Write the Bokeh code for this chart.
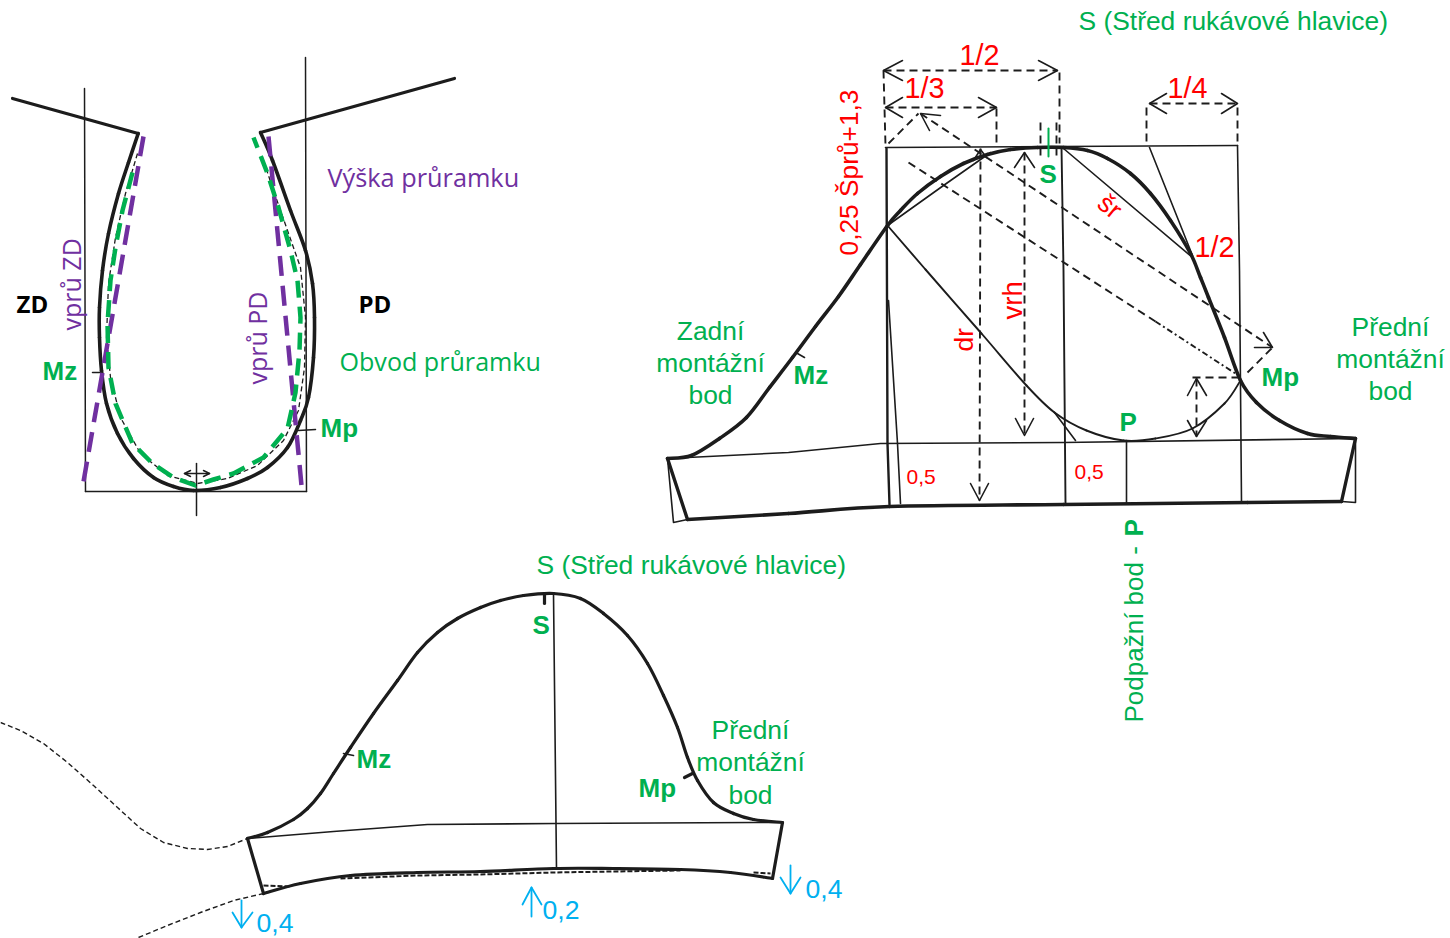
from math import pi, sin, cos
from bokeh.plotting import figure
from bokeh.models import Range1d
from bokeh.core.properties import value
from bokeh.embed import file_html
from bokeh.resources import INLINE

INK = "#1c1c1c"
GREEN = "#00B050"
PURPLE = "#7030A0"
RED = "#FF0000"
BLUE = "#00B0F0"
ARIAL = "Liberation Sans"
CALIBRI = "Open Sans"

# ---------- armhole drawing ----------
armhole = [(137.7,133),(128,162),(118,193),(108,233),(102,270),(99,307),(99,337),(101,370),(106,403),(117,433),
           (133,458),(153,477),(173,486),(193,490),(220,487),(247,478),(267,467),(287,447),(300,420),(308,397),
           (313,357),(314,317),(312,283),(305,250),(290,210),(272,160),(260,132)]
armhole_inner = [(137,153),(125,193),(115,237),(108,283),(106,337),(110,377),(120,417),(140,453),(167,475),(197,483),
                 (227,478),(257,465),(283,440),(298,410),(304,367),(305,317),(300,267),(287,230),(273,190),(262,157)]
armhole_green = [(132,172),(122,210),(115,247),(110,280),(107,323),(108,367),(115,403),(132,443),(152,463),(173,477),
                 (195,485),(213,479),(233,473),(263,457),(287,428),(295,392),(299,350),(300,317),(297,280),(290,250),
                 (278,207),(267,173),(253,137)]
dart_back = [(143,136),(82,487)]
dart_front = [(268,136),(301,485)]
shoulder_back = [(12,98),(137.7,133)]
shoulder_front = [(260,132),(454,78)]
guide_left = [(84,88),(85,491)]
guide_bottom = [(85,491),(306,491)]
guide_right = [(305,57),(306,491)]
guide_centre = [(196,463),(196,515)]
tick_mz_arm = [(92,372),(100,372)]
tick_mp_arm = [(298,430),(315,429)]
arrow_arm = [(184,473),(209,473)]
arrow_arm_heads = [[(190,470),(184,473),(190,476)],[(203,470),(209,473),(203,476)]]

# ---------- upper sleeve ----------
sleeve_head = [(667,458),(691,455),(719,438),(746,417),(769,387),(792,357),(815,326),(838,296),(860,264),(887,225),
               (900,210),(917,193),(940,176),(963,163),(987,154),(1010,149),(1037,147),(1063,147),(1087,150),(1107,158),
               (1130,173),(1150,193),(1170,220),(1190,253),(1200,277),(1208,297),(1224,337),(1240,380),(1256,402),
               (1279,420),(1307,433),(1330,436),(1355,438)]
sleeve_under = [(887,225),(925,269),(981,333),(1026,385),(1054,412),(1086,430),(1123,440),(1155,438),(1192,428),(1224,403),(1240,380)]
cuff_top = [(667,458),(788,452),(880,443),(1063,442),(1355,438)]
cuff_bottom = [(687,519),(788,513),(889,506),(1063,504),(1247,502),(1341,501)]
cuff_left = [(667,458),(687,519)]
cuff_right = [(1355,438),(1341,501)]
cuff_left_thin = [(667,458),(673,522),(687,519)]
cuff_right_thin = [(1355,438),(1355,502),(1341,501)]
box_top = [(885,147),(1237,145)]
box_left = [(886,148),(887,443),(889,504)]
box_left_slant = [(888,300),(897,443),(900,503)]
box_centre = [(1061,147),(1063,270),(1065,503)]
box_right = [(1237,145),(1239,270),(1241,502)]
line_p = [(1126,440),(1126,502)]
chord_back = [(887,225),(943,185),(990,152)]
chord_front = [(1063,148),(1192,257)]
tangent_front = [(1149,147),(1192,255)]
tangent_under = [(1054,412),(1075,440)]
tick_mz = [(797,353),(804,357)]
green_s_tick = [(1048,128),(1048,156)]

dash_half = [(883,70),(1057,70)]
dash_third = [(885,107),(996,107)]
dash_quarter = [(1149,103),(1237,103)]
drop_1 = [(883,70),(885,145)]
drop_2 = [(1059,72),(1059,143)]
drop_3 = [(996,108),(996,145)]
drop_4 = [(1146,107),(1146,143)]
drop_5 = [(1237,107),(1237,143)]
drop_6 = [(1040,122),(1040,155)]
drop_7 = [(1056,122),(1056,155)]
dash_sr = [(920,113),(1272,347)]
dash_sr_a = [(888,143),(918,113)]
dash_sr_b = [(1247,372),(1272,347)]
dash_mid_a = [(908,162),(1155,321)]
dash_mid_b = [(1155,321),(1238,375)]
dash_dr = [(980,148),(979,500)]
dash_vrh = [(1024,152),(1024,435)]
dash_small_v = [(1196,378),(1196,436)]
dash_small_h = [(1192,377),(1240,377)]
heads = [
    [(902,60),(883,70),(902,80)], [(1038,60),(1057,70),(1038,80)],
    [(902,97),(885,107),(902,117)], [(978,97),(996,107),(978,117)],
    [(1166,93),(1149,103),(1166,113)], [(1221,93),(1237,103),(1221,113)],
    [(940,115),(920,113),(929,130)], [(1254,347),(1272,347),(1263,332)],
    [(973,160),(980,149),(986,157)], [(970,483),(979,500),(988,483)],
    [(1014,167),(1024,152),(1034,167)], [(1015,418),(1024,435),(1033,418)],
    [(1187,395),(1196,378),(1206,395)], [(1187,420),(1196,436),(1206,420)],
]

# ---------- lower sleeve ----------
low_head = [(247,838),(267,832),(293,819),(307,808),(320,793),(333,773),(350,747),(373,713),(397,680),(417,652),
            (437,632),(457,618),(480,607),(500,600),(523,595),(553,593),(580,598),(603,613),(627,635),(647,663),
            (663,695),(677,727),(687,757),(697,780),(713,802),(733,813),(753,819),(782,822)]
low_cuff_top = [(247,838),(333,831),(427,824),(555,823),(753,822),(782,822)]
low_cuff_bottom = [(263,893),(300,883),(350,875),(417,872),(480,871),(553,868),(613,868),(680,869),(730,872),(772,878)]
low_dash_left = [(263,885),(290,886)]
low_dash_mid = [(340,878),(417,875),(480,874),(553,872),(613,871),(680,870)]
low_dash_right = [(753,872),(770,873)]
low_left = [(247,838),(263,893)]
low_right = [(782,822),(772,878)]
low_centre = [(553,593),(556,868)]
low_s_tick = [(544,595),(544,603)]
low_mz_tick = [(343,753),(353,755)]
low_mp_tick = [(684,777),(692,773)]
body_upper = [(0,722),(20,730),(43,743),(67,762),(93,785),(117,807),(140,828),(163,842),(187,848),(207,849),(227,846),(247,838)]
body_lower = [(138,937),(167,925),(200,912),(233,900),(263,893)]
blue_lines = [[(790,865),(790,893)],[(531,916),(531,887)],[(241,900),(241,927)]]
blue_heads = [[(780,877),(790,893),(800,877)],[(522,904),(531,887),(541,904)],[(232,912),(241,927),(252,912)]]

# ---------- labels: text, x, y, colour, font, size, bold, align, angle ----------
labels = [
    ("S (Střed rukávové hlavice)",1078,30,GREEN,ARIAL,26.4,False,"left",0),
    ("S (Střed rukávové hlavice)",536,574,GREEN,ARIAL,26.4,False,"left",0),
    ("Výška průramku",327,186,PURPLE,CALIBRI,25.3,False,"left",0),
    ("Obvod průramku",339,370,GREEN,CALIBRI,25.1,False,"left",0),
    ("ZD",16,312,"#000000",CALIBRI,24,True,"left",0),
    ("PD",358,312,"#000000",CALIBRI,24,True,"left",0),
    ("vprů ZD",79,330,PURPLE,CALIBRI,25,False,"left",pi/2),
    ("vprů PD",265,384,PURPLE,CALIBRI,25,False,"left",pi/2),
    ("Mz",42,380,GREEN,ARIAL,26,True,"left",0),
    ("Mp",320,437,GREEN,ARIAL,26,True,"left",0),
    ("Mz",793,384,GREEN,ARIAL,26,True,"left",0),
    ("Mp",1261,386,GREEN,ARIAL,26,True,"left",0),
    ("P",1119,431,GREEN,ARIAL,26,True,"left",0),
    ("S",1039,183,GREEN,ARIAL,26,True,"left",0),
    ("S",532,634,GREEN,ARIAL,26,True,"left",0),
    ("Mz",356,768,GREEN,ARIAL,26,True,"left",0),
    ("Mp",638,797,GREEN,ARIAL,26,True,"left",0),
    ("Zadní",710,340,GREEN,ARIAL,26.4,False,"center",0),
    ("montážní",710,372,GREEN,ARIAL,26.4,False,"center",0),
    ("bod",710,404,GREEN,ARIAL,26.4,False,"center",0),
    ("Přední",1390,336,GREEN,ARIAL,26.4,False,"center",0),
    ("montážní",1390,368,GREEN,ARIAL,26.4,False,"center",0),
    ("bod",1390,400,GREEN,ARIAL,26.4,False,"center",0),
    ("Přední",750,739,GREEN,ARIAL,26.4,False,"center",0),
    ("montážní",750,771,GREEN,ARIAL,26.4,False,"center",0),
    ("bod",750,804,GREEN,ARIAL,26.4,False,"center",0),
    ("Podpažní bod - ",1143,722,GREEN,ARIAL,26,False,"left",pi/2),
    ("P",1143,536,GREEN,ARIAL,26,True,"left",pi/2),
    ("1/2",959,65,RED,ARIAL,28.8,False,"left",0),
    ("1/3",904,98,RED,ARIAL,28.8,False,"left",0),
    ("1/4",1167,98,RED,ARIAL,28.8,False,"left",0),
    ("1/2",1194,257,RED,ARIAL,28.8,False,"left",0),
    ("0,25 Šprů+1,3",858,255,RED,ARIAL,26.3,False,"left",pi/2),
    ("dr",973,351,RED,ARIAL,26.4,False,"left",pi/2),
    ("vrh",1022,319,RED,ARIAL,27.5,False,"left",pi/2),
    ("šr",1095,206,RED,ARIAL,26.4,False,"left",-0.7),
    ("0,5",906,484,RED,ARIAL,21,False,"left",0),
    ("0,5",1074,479,RED,ARIAL,21,False,"left",0),
    ("0,4",805,898,BLUE,ARIAL,26.6,False,"left",0),
    ("0,2",542,919,BLUE,ARIAL,26.6,False,"left",0),
    ("0,4",256,932,BLUE,ARIAL,26.6,False,"left",0),
]

p = figure(width=1450, height=938, output_backend="svg", toolbar_location=None,
           x_range=Range1d(0, 1450), y_range=Range1d(938, 0),
           x_axis_location=None, y_axis_location=None, min_border=0,
           outline_line_color=None, background_fill_color="white", border_fill_color="white")
p.xgrid.visible = False
p.ygrid.visible = False


def draw(path, color=INK, width=1.3, dash="solid"):
    p.line([pt[0] for pt in path], [pt[1] for pt in path], line_color=color, line_width=width,
           line_dash=dash, line_join="round", line_cap="butt" if dash != "solid" else "round")


def curve(path, color=INK, width=3.2):
    """Solid smooth curve through the read points, using Bokeh's own bezier glyph."""
    n = len(path)
    x0, y0, x1, y1, cx0, cy0, cx1, cy1 = [], [], [], [], [], [], [], []
    for i in range(n - 1):
        a, b = path[max(i - 1, 0)], path[i]
        c, d = path[i + 1], path[min(i + 2, n - 1)]
        x0.append(b[0]); y0.append(b[1]); x1.append(c[0]); y1.append(c[1])
        cx0.append(b[0] + (c[0] - a[0]) / 6); cy0.append(b[1] + (c[1] - a[1]) / 6)
        cx1.append(c[0] - (d[0] - b[0]) / 6); cy1.append(c[1] - (d[1] - b[1]) / 6)
    p.bezier(x0=x0, y0=y0, x1=x1, y1=y1, cx0=cx0, cy0=cy0, cx1=cx1, cy1=cy1,
             line_color=color, line_width=width, line_cap="round")


for path in (guide_left, guide_bottom, guide_right, guide_centre, tick_mz_arm, tick_mp_arm, arrow_arm):
    draw(path, width=1.5)
for path in arrow_arm_heads:
    draw(path, width=1.5)
draw(armhole_inner, width=1.3, dash="5 3")
curve(armhole, width=3.6)
draw(shoulder_back, width=3.2)
draw(shoulder_front, width=3.2)
draw(dart_back, PURPLE, 4.5, "20 10")
draw(dart_front, PURPLE, 4.5, "20 10")
draw(armhole_green, GREEN, 4.5, "17 9")

for path in (cuff_top, box_top, box_right, line_p, chord_back, chord_front, tangent_front,
             tangent_under, cuff_left_thin, cuff_right_thin, box_left_slant, tick_mz):
    draw(path, width=1.6)
draw(box_centre, width=1.9)
curve(sleeve_under, width=1.9)
draw(box_left, width=2.4)
curve(sleeve_head, width=3.6)
curve(cuff_bottom, width=3.6)
draw(cuff_left, width=3.4)
draw(cuff_right, width=3.4)
for path in (dash_half, dash_third, dash_quarter, drop_1, drop_2, drop_3, drop_4, drop_5, drop_6, drop_7,
             dash_sr, dash_sr_a, dash_sr_b, dash_mid_a, dash_dr, dash_vrh, dash_small_v, dash_small_h):
    draw(path, width=1.9, dash="8 5")
draw(dash_mid_b, width=1.9, dash="6 3 2 3")
for path in heads:
    draw(path, width=1.6)
draw(green_s_tick, GREEN, 2)

for path in (low_cuff_top, low_centre, low_mz_tick):
    draw(path, width=1.6)
for path in (low_dash_left, low_dash_mid, low_dash_right):
    draw(path, width=2, dash="5 2")
curve(low_head, width=3.2)
curve(low_cuff_bottom, width=3.2)
for path in (low_left, low_right, low_s_tick, low_mp_tick):
    draw(path, width=3.2)
draw(body_upper, width=1.4, dash="5 3")
draw(body_lower, width=1.4, dash="5 3")
for path in blue_lines + blue_heads:
    draw(path, BLUE, 1.8)

for txt, x, y, col, font, size, bold, align, angle in labels:
    d = 0.36 * size   # distance from the baseline up to the text's middle
    p.text([x - d * sin(angle)], [y - d * cos(angle)], text=[txt], text_color=col, text_font=value(font),
           text_font_size=f"{size}px", text_font_style="bold" if bold else "normal", text_align=align,
           text_baseline="middle", angle=angle)

open("out.html", "w").write(file_html(p, INLINE))
